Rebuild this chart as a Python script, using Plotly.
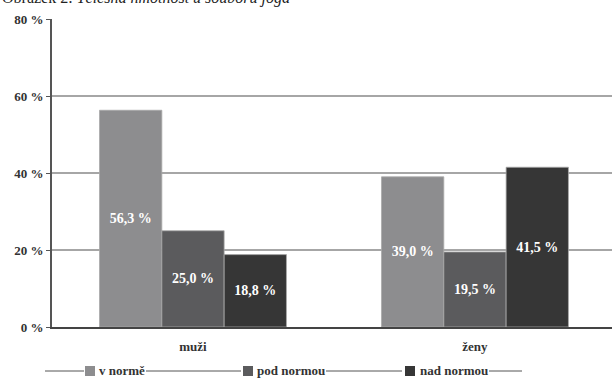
import plotly.graph_objects as go

# Data
categories = ["muži", "ženy"]
series_names = ["v normě", "pod normou", "nad normou"]
v_norme = [56.3, 39.0]
pod_normou = [25.0, 19.5]
nad_normou = [18.8, 41.5]
tick_values = [0, 20, 40, 60, 80]
tick_labels = ["0 %", "20 %", "40 %", "60 %", "80 %"]
title_text = "Obrázek 2: <i>Tělesná hmotnost u souboru jóga</i>"

colors = ["#8d8d8f", "#5b5b5d", "#363636"]
series_values = [v_norme, pod_normou, nad_normou]

W, H = 612, 379
L, T, R, B = 52, 19, 0, 52
plot_w = W - L - R
plot_h = H - T - B

FONT = "Times New Roman, Liberation Serif, serif"


def px_x(px):
    return (px - L) / plot_w


def px_y(py):
    return (H - B - py) / plot_h


def fmt(v):
    return f"{v:.1f}".replace(".", ",") + " %"


fig = go.Figure()
for name, vals, col in zip(series_names, series_values, colors):
    fig.add_trace(go.Bar(
        x=categories, y=vals, name=name,
        marker=dict(color=col, line=dict(color="#a9a9a9", width=0.8)),
        text=[fmt(v) for v in vals],
        textposition="inside", insidetextanchor="middle",
        textfont=dict(family=FONT, size=14, color="white", weight="bold"),
        showlegend=False,
    ))

# Custom legend row with connecting rules
shapes = []
annotations = []
leg_y = 371
sq = 10
legend_items = [(85, 97), (243, 255), (405, 418)]
line_segments = [(45, 84), (146, 241), (326, 402), (489, 522)]
for (a, b) in line_segments:
    shapes.append(dict(type="line", xref="paper", yref="paper",
                       x0=px_x(a), x1=px_x(b), y0=px_y(leg_y), y1=px_y(leg_y),
                       line=dict(color="#555555", width=1)))
for (sx, tx), name, col in zip(legend_items, series_names, colors):
    shapes.append(dict(type="rect", xref="paper", yref="paper",
                       x0=px_x(sx), x1=px_x(sx + sq),
                       y0=px_y(leg_y + sq / 2), y1=px_y(leg_y - sq / 2),
                       fillcolor=col, line=dict(width=0)))
    annotations.append(dict(text=name, xref="paper", yref="paper",
                            x=px_x(tx), y=px_y(leg_y - 1), xanchor="left", yanchor="middle",
                            showarrow=False,
                            font=dict(family=FONT, size=13, color="#333333", weight="bold")))

# Figure caption above the chart area
annotations.append(dict(text=title_text, xref="paper", yref="paper",
                        x=px_x(0), y=px_y(9), xanchor="left", yanchor="bottom",
                        showarrow=False,
                        font=dict(family=FONT, size=16, color="#222222")))

fig.update_layout(
    width=W, height=H,
    margin=dict(l=L, r=R, t=T, b=B, pad=0),
    paper_bgcolor="white", plot_bgcolor="white",
    barmode="group", bargap=0.337, bargroupgap=0,
    shapes=shapes, annotations=annotations,
    xaxis=dict(type="category", range=[-0.5, 1.486],
               showline=True, linecolor="#444444", linewidth=2,
               ticks="", showgrid=False, ticklabelstandoff=6,
               tickfont=dict(family=FONT, size=13, color="#333333", weight="bold")),
    yaxis=dict(range=[0, 80], tickvals=tick_values, ticktext=tick_labels,
               showline=True, linecolor="#555555", linewidth=2,
               ticks="outside", ticklen=4, tickcolor="#555555", tickwidth=1,
               showgrid=True, gridcolor="#a6a6a6", gridwidth=1.5,
               zeroline=False,
               tickfont=dict(family=FONT, size=13, color="#333333", weight="bold")),
)

fig.write_html("out.html")
